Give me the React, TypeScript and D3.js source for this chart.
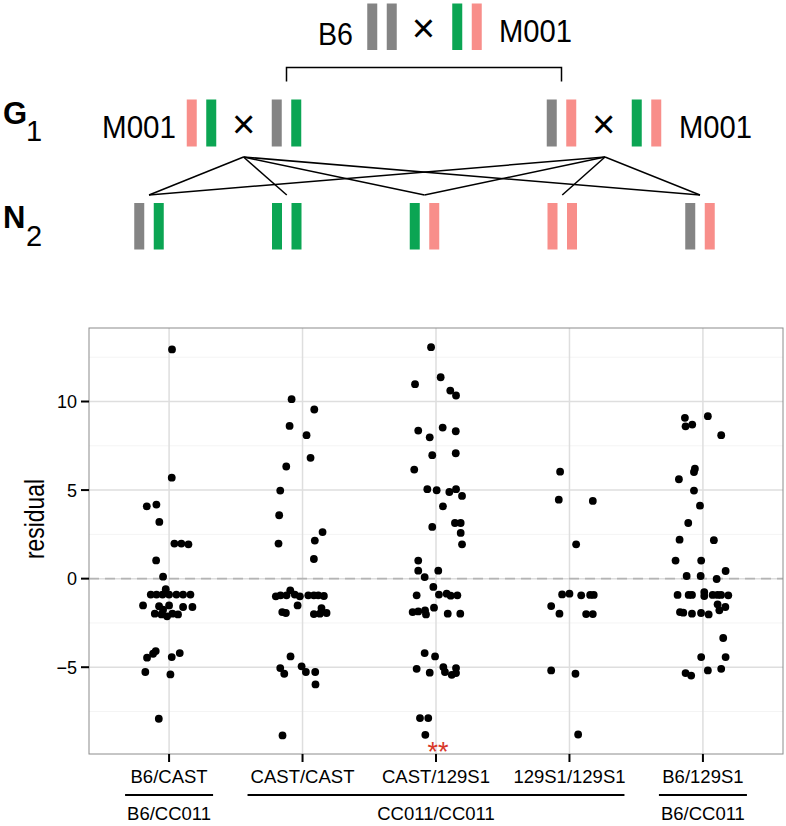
import React from "react";
import * as d3 from "d3";

// ---------- data ----------
const categories = ["B6/CAST", "CAST/CAST", "CAST/129S1", "129S1/129S1", "B6/129S1"];

const b6CastResidual = [12.94, 5.7, 4.08, 4.18, 3.2, 1.98, 1.98, 1.94, 1.03, 0.11, -0.6, -0.9, -0.9, -0.9, -0.9, -0.9, -0.9, -0.9, -1.51, -1.56, -1.51, -1.6, -1.6, -1.75, -1.98, -2.02, -2.13, -1.98, -2.02, -4.09, -4.24, -4.46, -4.43, -4.2, -5.27, -5.41, -7.91];
const b6CastJitter = [0.022, 0.02, -0.167, -0.095, -0.073, 0.04, 0.092, 0.145, -0.097, -0.045, -0.025, -0.137, -0.094, -0.049, 0, 0.055, 0.105, 0.16, -0.195, -0.075, 0, 0.105, 0.175, -0.045, -0.107, -0.057, -0.015, 0.025, 0.067, -0.1, -0.12, -0.165, 0.02, 0.08, -0.178, 0.01, -0.077];

const castCastResidual = [10.13, 9.55, 8.62, 8.1, 6.82, 6.33, 4.97, 3.58, 1.98, 2.63, 2.15, 1.11, -1.0, -0.94, -0.94, -0.66, -0.9, -1.0, -0.94, -0.94, -0.94, -0.98, -1.51, -1.89, -1.94, -1.66, -2.0, -1.98, -1.94, -4.39, -5.05, -5.37, -4.95, -5.27, -5.27, -5.97, -8.85];
const castCastJitter = [-0.082, 0.088, -0.097, 0.03, 0.06, -0.122, -0.167, -0.175, -0.18, 0.15, 0.092, 0.085, -0.2, -0.165, -0.12, -0.092, -0.058, -0.02, 0.043, 0.085, 0.118, 0.16, -0.037, -0.152, -0.125, 0.142, 0.085, 0.13, 0.18, -0.09, -0.167, -0.137, -0.007, 0.025, 0.095, 0.097, -0.15];

const cast129Residual = [13.07, 10.98, 11.37, 10.62, 10.34, 8.36, 8.53, 7.98, 8.32, 6.97, 7.08, 6.16, 5.05, 4.99, 4.89, 5.05, 4.67, 4.08, 2.92, 3.14, 3.14, 2.58, 1.94, 1.02, 0.45, 0.45, 0.09, -0.47, -0.94, -0.9, -0.85, -0.96, -0.94, -1.89, -1.85, -1.79, -2.02, -1.64, -1.98, -1.98, -4.2, -4.39, -5.09, -5.31, -4.99, -5.27, -5.43, -5.05, -5.33, -7.87, -7.87, -8.82];
const cast129Jitter = [-0.037, -0.157, 0.035, 0.107, 0.15, -0.133, 0.05, -0.047, 0.148, -0.028, 0.148, -0.163, -0.065, 0.005, 0.1, 0.15, 0.195, 0.052, -0.028, 0.142, 0.185, 0.185, 0.195, -0.133, -0.133, 0.017, -0.085, -0.02, -0.145, 0.022, 0.08, 0.11, 0.16, -0.175, -0.133, -0.082, -0.075, -0.015, 0.088, 0.182, -0.085, -0.007, -0.145, -0.047, 0.055, 0.067, 0.118, 0.15, 0.15, -0.12, -0.058, -0.08];

const s129s129Residual = [6.04, 4.46, 4.39, 1.94, -0.89, -0.85, -1.55, -1.98, -0.94, -0.92, -0.92, -2.0, -2.0, -5.18, -5.37, -8.8];
const s129s129Jitter = [-0.07, -0.08, 0.175, 0.05, -0.055, 0, -0.137, -0.075, 0.088, 0.155, 0.182, 0.125, 0.175, -0.137, 0.045, 0.065];

const b6129Residual = [9.08, 8.6, 8.7, 9.17, 8.1, 5.61, 6.02, 6.21, 4.97, 4.12, 3.14, 2.2, 2.17, 1.02, 1.02, 0.15, 0.15, 0.43, -0.02, -0.92, -0.92, -0.92, -0.76, -0.98, -0.92, -0.92, -0.92, -0.94, -1.45, -1.6, -1.79, -1.89, -1.92, -1.98, -1.94, -2.02, -3.35, -4.43, -4.43, -5.33, -5.47, -5.18, -5.09];
const b6129Jitter = [-0.135, -0.13, -0.08, 0.037, 0.137, -0.18, -0.067, -0.06, -0.067, -0.022, -0.11, -0.175, 0.082, -0.205, -0.013, -0.122, -0.017, 0.17, 0.103, -0.19, -0.107, -0.082, 0.01, 0.01, 0.073, 0.11, 0.136, 0.19, 0.11, 0.168, 0.123, -0.172, -0.147, -0.082, -0.014, 0.043, 0.152, -0.013, 0.17, -0.13, -0.088, 0.037, 0.137];

const residualSeries = [b6CastResidual, castCastResidual, cast129Residual, s129s129Residual, b6129Residual];
const jitterSeries = [b6CastJitter, castCastJitter, cast129Jitter, s129s129Jitter, b6129Jitter];

const yTicks = [-5, 0, 5, 10];
const yMinorTicks = [-7.5, -2.5, 2.5, 7.5, 12.5];
const yTitle = "residual";

const groupLabels = ["B6/CC011", "CC011/CC011", "B6/CC011"];
const groupStart = [0, 1, 4];
const groupEnd = [0, 3, 4];

const sigCategory = "CAST/129S1";
const sigLabel = "**";

// cross diagram
const topMale = ["B6", "B6"];
const topFemale = ["CAST", "129S1"];
const g1LeftFemale = ["129S1", "CAST"];
const g1LeftMale = ["B6", "CAST"];
const g1RightMale = ["B6", "129S1"];
const g1RightFemale = ["CAST", "129S1"];
const leftCrossOffspring = [0, 1, 2, 4];
const rightCrossOffspring = [0, 2, 3, 4];

const alleleColor: Record<string, string> = {
  B6: "#848484",
  CAST: "#0BA553",
  "129S1": "#F88E8A",
};

const FONT = "'Liberation Sans', Arial, Helvetica, sans-serif";

function Pair({ cx, y0, h, alleles }: { cx: number; y0: number; h: number; alleles: string[] }) {
  const bw = 10;
  const gap = 9.5;
  return (
    <g>
      {alleles.map((a, i) => (
        <rect
          key={i}
          x={cx - gap / 2 - bw + i * (bw + gap)}
          y={y0}
          width={bw}
          height={h}
          fill={alleleColor[a]}
        />
      ))}
    </g>
  );
}

export default function App() {
  const W = 786;
  const H = 826;
  const left = 89;
  const right = 783;
  const top = 328;
  const bottom = 754;

  const x = d3.scaleLinear().domain([0.4, categories.length + 0.6]).range([left, right]);
  const y = d3.scaleLinear().domain([-9.9, 14.15]).range([bottom, top]);

  const n2x = d3.scalePoint<string>().domain(categories).range([149, 700]);

  const points = residualSeries.flatMap((vals, ci) =>
    vals.map((v, j) => ({ cx: x(ci + 1 + jitterSeries[ci][j]), cy: y(v) }))
  );

  const leftVertex = { x: 243.5, y: 157 };
  const rightVertex = { x: 605, y: 157 };
  const n2LineY = 195;

  return (
    <div style={{ position: "absolute", left: 0, top: 0 }}>
      <svg width={W} height={H} style={{ display: "block", fontFamily: FONT }}>
        <rect width={W} height={H} fill="#fff" />

        {/* ---------- cross diagram ---------- */}
        <g>
          <text x={318} y={45} fontSize={31} textLength={35} lengthAdjust="spacingAndGlyphs">B6</text>
          <Pair cx={382} y0={3.5} h={46.5} alleles={topMale} />
          <text x={423.5} y={42} fontSize={40} textAnchor="middle">×</text>
          <Pair cx={467} y0={3.5} h={46.5} alleles={topFemale} />
          <text x={499} y={42} fontSize={31} textLength={73} lengthAdjust="spacingAndGlyphs">M001</text>

          <path d={`M286.5,81.5V67.5H561.5V81.5`} fill="none" stroke="#000" strokeWidth={1.5} />

          <text x={3} y={124} fontSize={31} fontWeight="bold">G</text>
          <text x={26} y={141} fontSize={29}>1</text>

          <text x={102} y={138} fontSize={31} textLength={74} lengthAdjust="spacingAndGlyphs">M001</text>
          <Pair cx={201.5} y0={99.5} h={47} alleles={g1LeftFemale} />
          <text x={243.7} y={137.5} fontSize={40} textAnchor="middle">×</text>
          <Pair cx={286.5} y0={99.5} h={47} alleles={g1LeftMale} />

          <Pair cx={561.5} y0={99.5} h={47} alleles={g1RightMale} />
          <text x={603.7} y={137.5} fontSize={40} textAnchor="middle">×</text>
          <Pair cx={646.5} y0={99.5} h={47} alleles={g1RightFemale} />
          <text x={679} y={138} fontSize={31} textLength={73} lengthAdjust="spacingAndGlyphs">M001</text>

          {leftCrossOffspring.map((ci) => (
            <line key={"l" + ci} x1={leftVertex.x} y1={leftVertex.y} x2={n2x(categories[ci])!} y2={n2LineY} stroke="#000" strokeWidth={1.5} />
          ))}
          {rightCrossOffspring.map((ci) => (
            <line key={"r" + ci} x1={rightVertex.x} y1={rightVertex.y} x2={n2x(categories[ci])!} y2={n2LineY} stroke="#000" strokeWidth={1.5} />
          ))}

          <text x={3} y={228} fontSize={31} fontWeight="bold">N</text>
          <text x={26} y={246} fontSize={29}>2</text>
          {categories.map((c) => (
            <Pair key={c} cx={n2x(c)!} y0={203} h={46.5} alleles={c.split("/")} />
          ))}
        </g>

        {/* ---------- scatter panel ---------- */}
        <rect x={left} y={top} width={right - left} height={bottom - top} fill="#fff" />
        {yMinorTicks.map((t) => (
          <line key={"m" + t} x1={left} x2={right} y1={y(t)} y2={y(t)} stroke="#f4f4f4" strokeWidth={1} />
        ))}
        {yTicks.map((t) => (
          <line key={"g" + t} x1={left} x2={right} y1={y(t)} y2={y(t)} stroke="#dedede" strokeWidth={1.5} />
        ))}
        {categories.map((c, i) => (
          <line key={"v" + c} x1={x(i + 1)} x2={x(i + 1)} y1={top} y2={bottom} stroke="#dedede" strokeWidth={1.5} />
        ))}
        <line x1={left} x2={right} y1={y(0)} y2={y(0)} stroke="#b4b4b4" strokeWidth={1.8} strokeDasharray="10,6" />

        {points.map((p, i) => (
          <circle key={i} cx={p.cx} cy={p.cy} r={3.9} fill="#000" />
        ))}

        <text
          x={x(categories.indexOf(sigCategory) + 1) + 2}
          y={761}
          fontSize={27}
          textAnchor="middle"
          fill="#D8382A"
        >
          {sigLabel}
        </text>

        <rect x={left} y={top} width={right - left} height={bottom - top} fill="none" stroke="#8c8c8c" strokeWidth={1} />

        {/* y axis */}
        {yTicks.map((t) => (
          <g key={"yt" + t}>
            <line x1={left - 8} x2={left} y1={y(t)} y2={y(t)} stroke="#000" strokeWidth={2} />
            <text x={77} y={y(t)} dy="0.36em" fontSize={18} textAnchor="end">
              {t < 0 ? "\u2212" + Math.abs(t) : String(t)}
            </text>
          </g>
        ))}
        <text
          transform={`translate(44,519) rotate(-90)`}
          fontSize={28}
          textAnchor="middle"
          textLength={80}
          lengthAdjust="spacingAndGlyphs"
        >
          {yTitle}
        </text>

        {/* x axis */}
        {categories.map((c, i) => (
          <g key={"xt" + c}>
            <line x1={x(i + 1)} x2={x(i + 1)} y1={bottom} y2={bottom + 8} stroke="#000" strokeWidth={2} />
            <text x={x(i + 1)} y={783} fontSize={18.5} textAnchor="middle">
              {c}
            </text>
          </g>
        ))}

        {groupLabels.map((g, i) => {
          const x0 = x(groupStart[i] + 1);
          const x1 = x(groupEnd[i] + 1);
          const pad = groupStart[i] === groupEnd[i] ? 44 : 55;
          return (
            <g key={"grp" + i}>
              <line x1={x0 - pad} x2={x1 + pad} y1={795} y2={795} stroke="#000" strokeWidth={2} />
              <text x={(x0 + x1) / 2} y={820} fontSize={18.5} textAnchor="middle">
                {g}
              </text>
            </g>
          );
        })}
      </svg>
    </div>
  );
}
